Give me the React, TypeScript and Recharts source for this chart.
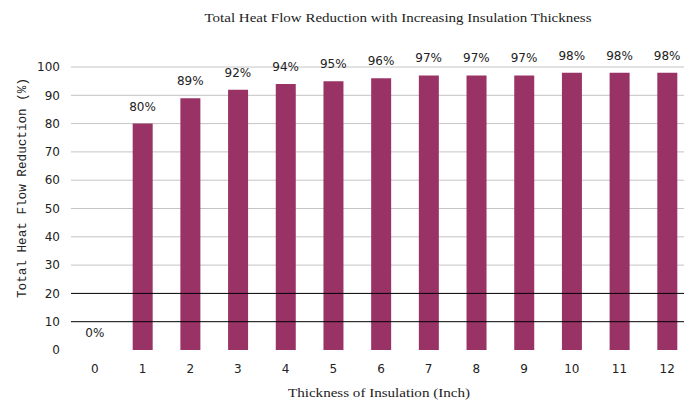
import React from "react";
import {
  ComposedChart,
  Bar,
  Line,
  XAxis,
  YAxis,
  CartesianGrid,
  ReferenceLine,
  LabelList,
} from "recharts";

// Insulation thickness in inches
const thickness = ["0", "1", "2", "3", "4", "5", "6", "7", "8", "9", "10", "11", "12"];
// Total heat flow reduction (%) for each thickness
const reduction = [0, 80, 89, 92, 94, 95, 96, 97, 97, 97, 98, 98, 98];
const yTicks = [0, 10, 20, 30, 40, 50, 60, 70, 80, 90, 100];
const lightGridValues = [30, 40, 50, 60, 70, 80, 90, 100];
const darkGridValues = [10, 20];

const data = thickness.map((t, i) => ({ thickness: t, reduction: reduction[i] }));

const BAR_COLOR = "#993366";
const TEXT_COLOR = "#222";

export default function App() {
  return (
    <div style={{ position: "absolute", left: 0, top: 0, width: 700, height: 404, background: "#fff" }}>
      <ComposedChart
        width={700}
        height={404}
        data={data}
        margin={{ top: 67, right: 9, bottom: 24, left: 21 }}
        barCategoryGap={0}
      >
        <text
          x={398}
          y={22}
          textAnchor="middle"
          fontFamily="Liberation Serif"
          fontSize={13}
          fill={TEXT_COLOR}
          textLength={387}
          lengthAdjust="spacingAndGlyphs"
        >
          Total Heat Flow Reduction with Increasing Insulation Thickness
        </text>
        <CartesianGrid
          vertical={false}
          stroke="#c4c4c4"
          horizontalValues={lightGridValues}
        />
        {darkGridValues.map((v) => (
          <ReferenceLine key={v} y={v} stroke="#000" strokeWidth={1} />
        ))}
        <XAxis
          dataKey="thickness"
          height={30}
          tickLine={false}
          axisLine={false}
          tickSize={0}
          tickMargin={14}
          tick={{ fontFamily: "DejaVu Sans", fontSize: 12, fill: TEXT_COLOR }}
          interval={0}
        />
        <YAxis
          width={50}
          domain={[0, 100]}
          ticks={yTicks}
          tickLine={false}
          axisLine={false}
          tickSize={0}
          tickMargin={11}
          tick={{ fontFamily: "DejaVu Sans", fontSize: 12, fill: TEXT_COLOR }}
        />
        <text
          x={22}
          y={188}
          transform="rotate(-90 22 188)"
          textAnchor="middle"
          dominantBaseline="central"
          fontFamily="Liberation Mono"
          fontSize={13}
          fill={TEXT_COLOR}
          textLength={220}
          lengthAdjust="spacingAndGlyphs"
        >
          Total Heat Flow Reduction (%)
        </text>
        <text
          x={379}
          y={397}
          textAnchor="middle"
          fontFamily="Liberation Serif"
          fontSize={13}
          fill={TEXT_COLOR}
          textLength={182}
          lengthAdjust="spacingAndGlyphs"
        >
          Thickness of Insulation (Inch)
        </text>
        <Bar dataKey="reduction" fill={BAR_COLOR} barSize={20} isAnimationActive={false} />
        {/* invisible series carrying the value labels, so the zero bar gets one too */}
        <Line
          dataKey="reduction"
          stroke="none"
          dot={false}
          activeDot={false}
          isAnimationActive={false}
        >
          <LabelList
            dataKey="reduction"
            position="top"
            offset={13}
            formatter={(v: number) => `${v}%`}
            style={{ fontFamily: "DejaVu Sans", fontSize: 12, fill: TEXT_COLOR }}
          />
        </Line>
      </ComposedChart>
    </div>
  );
}
